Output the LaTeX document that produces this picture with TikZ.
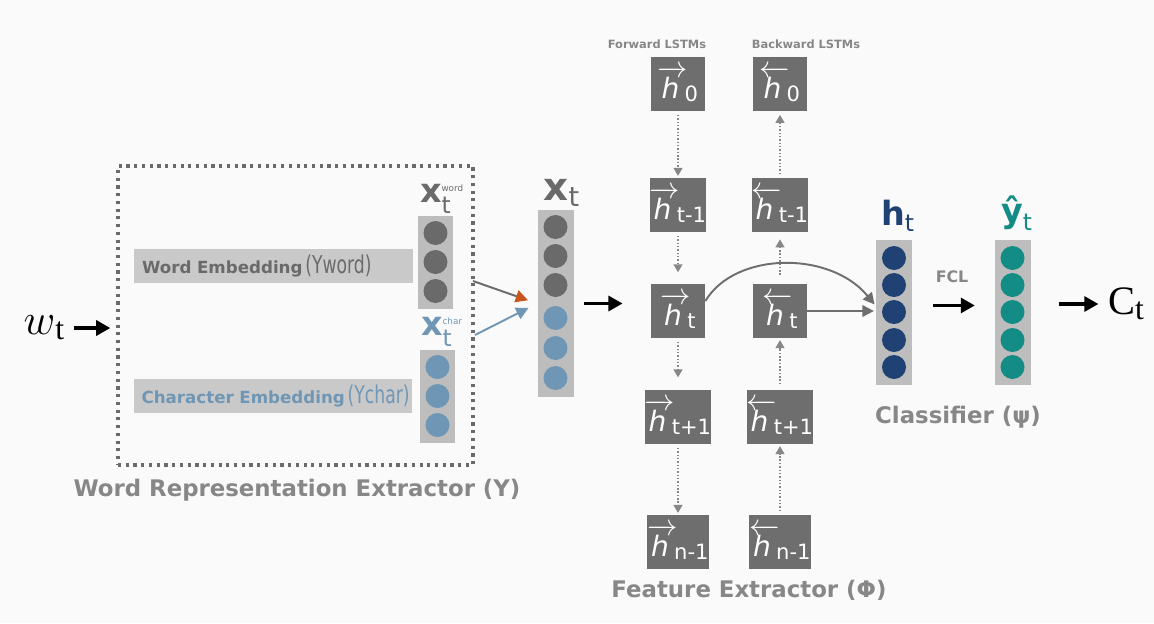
\documentclass[tikz,border=0pt]{standalone}
\usepackage{amsmath}
\usepackage{fontspec}
\setmainfont{DejaVu Sans}
\newfontfamily\serifface{Liberation Serif}
\usetikzlibrary{arrows.meta}

\definecolor{bgcol}{HTML}{FAFAFA}
\definecolor{labelgray}{HTML}{878787}
\definecolor{boxgray}{HTML}{6E6E6E}
\definecolor{colgray}{HTML}{BDBDBD}
\definecolor{bargray}{HTML}{C9C9C9}
\definecolor{wordgray}{HTML}{6A6A6A}
\definecolor{charblue}{HTML}{6F97B5}
\definecolor{hnavy}{HTML}{1F4174}
\definecolor{yteal}{HTML}{138C86}
\definecolor{arrorange}{HTML}{C8561A}

\newcommand{\fwh}[1]{$\overrightarrow{\text{\itshape h}\,}$\kern-2pt\raisebox{-1.5pt}{\fontsize{12}{12}\selectfont #1}}
\newcommand{\bwh}[1]{$\overleftarrow{\text{\itshape h}\,}$\kern-2pt\raisebox{-1.5pt}{\fontsize{12}{12}\selectfont #1}}
\newcommand{\embtag}[1]{\scalebox{0.7}[1]{\fontsize{14}{14}\selectfont\mdseries #1}}

\begin{document}
\begin{tikzpicture}[x=0.02cm, y=-0.02cm,
        title/.style={text=labelgray, font={\bfseries\fontsize{13}{15}\selectfont}},
        smalltitle/.style={text=labelgray, inner sep=1pt, font={\bfseries\fontsize{6.5}{8}\selectfont}},
        wrebox/.style={draw=wordgray, line width=1.8pt, dash pattern=on 1.8pt off 2.6pt, minimum width=7.1cm, minimum height=5.98cm},
        embbar/.style={fill=bargray, minimum height=0.68cm, text width=5.26cm, inner xsep=0.16cm, align=left, font={\fontsize{9.5}{11}\selectfont}},
        vec/.style={fill=colgray, minimum width=0.72cm, inner sep=0pt},
        unit/.style={circle, minimum size=0.48cm, inner sep=0pt},
        lstm/.style={fill=boxgray, minimum size=1.08cm, inner sep=0pt, text=white, font={\fontsize{16}{16}\selectfont}},
        bigarrow/.style={line width=1.8pt, -{Triangle[length=8pt, width=8.5pt]}},
        lstmlink/.style={labelgray, densely dotted, line width=0.9pt, -{Triangle[length=4.5pt, width=5pt]}, shorten <=2pt, shorten >=1pt},
        hlink/.style={boxgray, line width=1.1pt, -{Triangle[length=6.5pt, width=6.5pt]}, shorten >=1pt}
    ]
    \fill [bgcol] (0, 0) rectangle (1154, 623);

    \node [wrebox] (wre) at (295.5, 315.5) {};
    \node [title] (wrelabel) at (297, 490) {Word Representation Extractor (Υ)};
    \node [embbar, text=wordgray] (wemb) at (273.5, 266) {\mbox{\textbf{Word Embedding}\,\embtag{(Υword)}}};
    \node [embbar, text=charblue] (cemb) at (273, 395.5) {\mbox{\textbf{Character Embedding}\,\embtag{(Υchar)}}};

    \node [vec, minimum height=1.86cm] (xword) at (435.5, 262.5) {};
    \node [unit, fill=wordgray] (xw1) at (435.5, 233) {};
    \node [unit, fill=wordgray] (xw2) at (435.5, 262) {};
    \node [unit, fill=wordgray] (xw3) at (435.5, 291) {};
    \node [text=wordgray, font={\fontsize{19}{19}\selectfont}] (xwordlabel) at (442, 199) {$\textbf{x}_{\text{t}}^{\text{\fontsize{5}{5}\selectfont word}}$};

    \node [vec, minimum height=1.86cm] (xchar) at (437.5, 396.5) {};
    \node [unit, fill=charblue] (xc1) at (437.5, 367) {};
    \node [unit, fill=charblue] (xc2) at (437.5, 396) {};
    \node [unit, fill=charblue] (xc3) at (437.5, 425) {};
    \node [text=charblue, font={\fontsize{19}{19}\selectfont}] (xcharlabel) at (442, 332) {$\textbf{x}_{\text{t}}^{\text{\fontsize{5}{5}\selectfont char}}$};

    \node [vec, minimum height=3.74cm] (xt) at (555.5, 303.5) {};
    \node [unit, fill=wordgray] (xt1) at (555.5, 227) {};
    \node [unit, fill=wordgray] (xt2) at (555.5, 256) {};
    \node [unit, fill=wordgray] (xt3) at (555.5, 285) {};
    \node [unit, fill=charblue] (xt4) at (555.5, 318) {};
    \node [unit, fill=charblue] (xt5) at (555.5, 348) {};
    \node [unit, fill=charblue] (xt6) at (555.5, 378) {};
    \node [text=wordgray, font={\fontsize{22}{22}\selectfont}] (xtlabel) at (562, 193) {$\textbf{x}_{\text{t}}$};

    \coordinate (wout) at (473, 281);
    \coordinate (cout) at (475, 335);
    \draw [charblue, line width=1.1pt, -{Triangle[length=7pt, width=7pt]}, shorten >=5.5pt] (cout) -- (xt.west);
    \draw [wordgray, line width=1.1pt, -{Triangle[length=7pt, width=7pt, color=arrorange]}, shorten >=5.5pt] (wout) -- (xt.west);

    \node [font={\fontsize{26}{28}\selectfont}] (wt) at (44, 328) {$w$\raisebox{-3pt}{\serifface\fontsize{18}{18}\selectfont t}};
    \draw [bigarrow, shorten <=2pt, shorten >=3.5pt] (wt.east) -- (wt.east -| wre.west);

    \node [smalltitle] (fwdlabel) at (657, 44) {Forward LSTMs};
    \node [smalltitle] (bwdlabel) at (806, 44) {Backward LSTMs};
    \node [lstm] (f0) at (678, 84) {\fwh{0}};
    \node [lstm] (f1) at (678, 205) {\fwh{t-1}};
    \node [lstm] (f2) at (678, 311) {\fwh{t}};
    \node [lstm] (f3) at (678, 417) {\fwh{t+1}};
    \node [lstm] (f4) at (678, 542) {\fwh{n-1}};
    \node [lstm] (b0) at (780, 84) {\bwh{0}};
    \node [lstm] (b1) at (780, 205) {\bwh{t-1}};
    \node [lstm] (b2) at (780, 311) {\bwh{t}};
    \node [lstm] (b3) at (780, 417) {\bwh{t+1}};
    \node [lstm] (b4) at (780, 542) {\bwh{n-1}};
    \node [title] (felabel) at (749, 590) {Feature Extractor (Φ)};

    \draw [lstmlink] (f0) -- (f1);
    \draw [lstmlink, shorten >=6.5pt] (f1) -- (f2);
    \draw [lstmlink, shorten >=7pt] (f2) -- (f3);
    \draw [lstmlink] (f3) -- (f4);
    \draw [lstmlink] (b4) -- (b3);
    \draw [lstmlink, shorten <=3pt] (b3) -- (b2);
    \draw [lstmlink, shorten <=5pt, shorten >=4pt] (b2) -- (b1);
    \draw [lstmlink, shorten >=2pt] (b1) -- (b0);

    \draw [bigarrow, shorten <=5.5pt, shorten >=16pt] (xt.east) -- (xt.east -| f2.west);

    \node [vec, minimum height=2.9cm] (hcol) at (894, 312.5) {};
    \node [unit, fill=hnavy] (h1) at (894, 258) {};
    \node [unit, fill=hnavy] (h2) at (894, 285) {};
    \node [unit, fill=hnavy] (h3) at (894, 312) {};
    \node [unit, fill=hnavy] (h4) at (894, 340) {};
    \node [unit, fill=hnavy] (h5) at (894, 367) {};
    \node [text=hnavy, font={\fontsize{19}{19}\selectfont}] (hlabel) at (898, 216) {$\textbf{h}_{\text{t}}$};

    \draw [hlink] (f2.20) .. controls +(30, -50) and +(-45, -55) .. (hcol.160);
    \draw [hlink] (b2.east) -- (b2.east -| hcol.west);

    \node [vec, minimum height=2.9cm] (ycol) at (1012.5, 312.5) {};
    \node [unit, fill=yteal] (y1) at (1012.5, 258) {};
    \node [unit, fill=yteal] (y2) at (1012.5, 285) {};
    \node [unit, fill=yteal] (y3) at (1012.5, 312) {};
    \node [unit, fill=yteal] (y4) at (1012.5, 340) {};
    \node [unit, fill=yteal] (y5) at (1012.5, 367) {};
    \node [text=yteal, font={\fontsize{19}{19}\selectfont}] (ylabel) at (1017, 213) {$\textbf{ŷ}_{\text{t}}$};

    \node [text=labelgray, font={\bfseries\fontsize{9}{10}\selectfont}] (fcl) at (952, 277) {FCL};
    \draw [bigarrow, shorten <=12pt, shorten >=11pt] ([yshift=4pt]hcol.east) -- ([yshift=4pt]ycol.west);

    \node [font={\serifface\fontsize{23}{26}\selectfont}] (ct) at (1126, 304) {C\raisebox{-3pt}{\fontsize{18}{18}\selectfont t}};
    \draw [bigarrow, shorten <=16pt, shorten >=2pt] (ycol.east |- ct) -- (ct.west);

    \node [title] (clslabel) at (958, 417) {Classifier (ψ)};
\end{tikzpicture}
\end{document}
